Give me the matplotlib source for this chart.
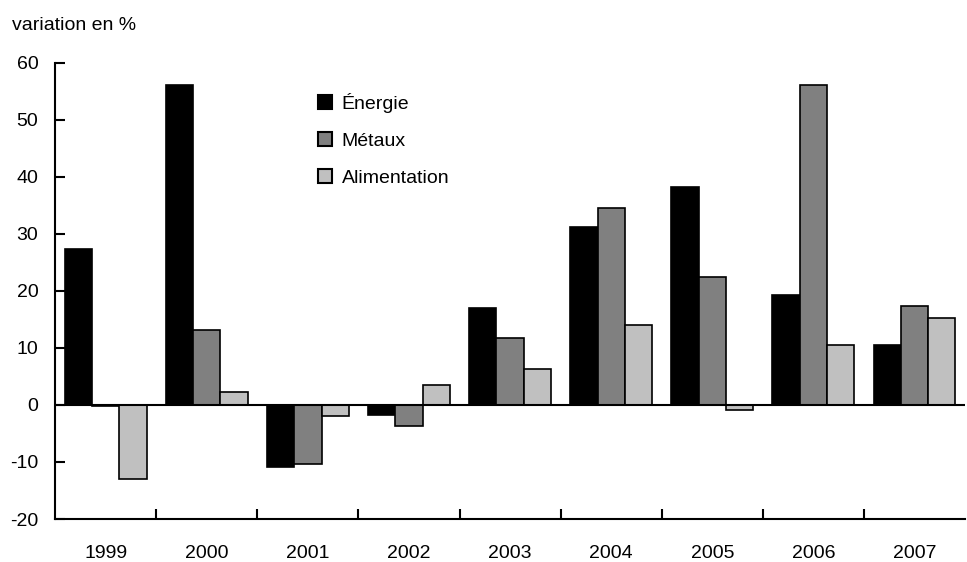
import numpy as np
import matplotlib.pyplot as plt
from matplotlib.patches import Patch

plt.rcParams['font.family'] = ['Liberation Sans Narrow', 'Liberation Sans', 'DejaVu Sans']
plt.rcParams['axes.unicode_minus'] = False

years = ['1999', '2000', '2001', '2002', '2003', '2004', '2005', '2006', '2007']
energie = [27.4, 56.1, -10.8, -1.8, 17.0, 31.2, 38.2, 19.3, 10.5]
metaux = [-0.2, 13.2, -10.3, -3.6, 11.8, 34.6, 22.4, 56.1, 17.3]
alimentation = [-13.0, 2.3, -1.9, 3.5, 6.3, 14.0, -0.9, 10.5, 15.2]

fig = plt.figure(figsize=(9.67, 5.62), dpi=100)
ax = fig.add_axes([0.057, 0.0765, 0.941, 0.8115])

x = np.arange(len(years))
w = 0.27
ax.bar(x - w, energie, w, color='black', edgecolor='black', linewidth=1.2)
ax.bar(x, metaux, w, color='#808080', edgecolor='black', linewidth=1.2)
ax.bar(x + w, alimentation, w, color='#c0c0c0', edgecolor='black', linewidth=1.2)

ax.axhline(0, color='black', linewidth=1.5, zorder=3)
ax.set_xlim(-0.5, len(years) - 0.5)
ax.set_ylim(-20, 60)
ax.set_yticks(range(-20, 61, 10))
ax.set_xticks(x)
ax.set_xticklabels(years)
ax.set_xticks(np.arange(0.5, len(years) - 0.5), minor=True)
ax.tick_params(axis='x', which='major', length=0, pad=19, labelsize=14)
ax.tick_params(axis='x', which='minor', direction='in', length=7, width=1.5)
ax.tick_params(axis='y', direction='in', length=7, width=1.5, labelsize=14, pad=12)
for s in ['top', 'right']:
    ax.spines[s].set_visible(False)
for s in ['left', 'bottom']:
    ax.spines[s].set_linewidth(1.5)

handles = [Patch(facecolor='black', edgecolor='black', linewidth=1.5),
           Patch(facecolor='#808080', edgecolor='black', linewidth=1.5),
           Patch(facecolor='#c0c0c0', edgecolor='black', linewidth=1.5)]
fig.legend(handles, ['Énergie', 'Métaux', 'Alimentation'], loc='upper left',
           bbox_to_anchor=(0.311, 0.866), frameon=False, fontsize=14,
           handlelength=0.7, handleheight=0.7, handletextpad=0.5, labelspacing=1.0)

fig.text(0.012, 0.955, 'variation en %', fontsize=14, va='center')

fig.savefig('out.png', dpi=100)
